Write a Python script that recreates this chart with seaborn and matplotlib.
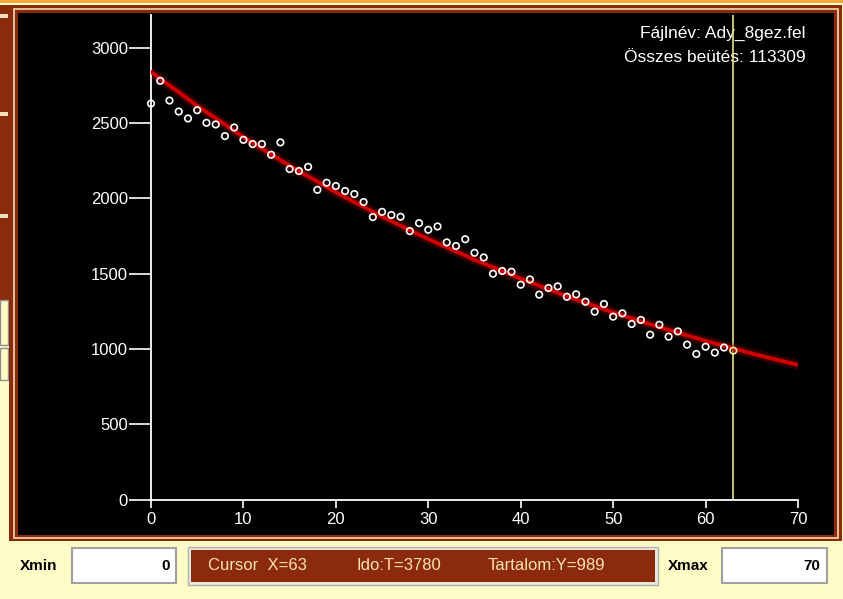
"""
Bomlási görbe (beütésszám az idő függvényében) - képernyőkép újrarajzolása
"""
import numpy as np
import pandas as pd
import matplotlib
matplotlib.use("Agg")
import matplotlib.pyplot as plt
import seaborn as sns
from matplotlib.patches import Rectangle

# Mért pontok (csatorna, beütés)
csatorna = list(range(64))
beutes = [2630, 2781, 2650, 2577, 2531, 2586, 2502, 2491, 2414, 2471,
          2389, 2361, 2361, 2290, 2372, 2195, 2182, 2210, 2057, 2104,
          2082, 2049, 2029, 1976, 1876, 1911, 1890, 1878, 1783, 1836,
          1792, 1814, 1708, 1684, 1729, 1639, 1608, 1500, 1518, 1513,
          1427, 1462, 1361, 1405, 1416, 1347, 1363, 1314, 1248, 1299,
          1215, 1237, 1166, 1193, 1095, 1161, 1082, 1117, 1029, 967,
          1015, 976, 1010, 989]

# Illesztett görbe (leolvasva)
illesztes_x = [0, 5, 10, 15, 20, 25, 30, 35, 40, 45, 50, 55, 60, 65, 70]
illesztes_y = [2840, 2615, 2407, 2217, 2041, 1879, 1730, 1593, 1467, 1350,
               1243, 1145, 1054, 970, 894]

y_ticks = [0, 500, 1000, 1500, 2000, 2500, 3000]
x_ticks = [0, 10, 20, 30, 40, 50, 60, 70]

fajlnev = "Fájlnév: Ady_8gez.fel"
osszes = "Összes beütés: 113309"
kurzor_x = 63
statusz = ["Cursor  X=63", "Ido:T=3780", "Tartalom:Y=989"]

sns.set_style("white")
plt.rcParams['font.family'] = ['Liberation Sans', 'DejaVu Sans']

W, H = 843, 599
fig = plt.figure(figsize=(W / 100, H / 100), dpi=100)
fig.patch.set_facecolor('#fdfcc6')


def doboz(x0, y0, x1, y1, **kw):
    # téglalap képpont-koordinátákban (felülről mérve)
    fig.add_artist(Rectangle((x0 / W, 1 - y1 / H), (x1 - x0) / W, (y1 - y0) / H,
                             transform=fig.transFigure, zorder=-1, **kw))


def szoveg(x, y, s, **kw):
    fig.text(x / W, 1 - y / H, s, **kw)


# keret és fekete panel
doboz(0, 0, 843, 3, fc='#f4a83a', ec='none')
doboz(0, 5, 9, 300, fc='#8a2c0c', ec='none')
for yy in (14, 112, 214):
    doboz(0, yy, 8, yy + 4, fc='#f0e0c0', ec='none')
doboz(0, 300, 8, 345, fc='#fdfcc6', ec='#909090', lw=1)
doboz(0, 348, 8, 380, fc='#fdfcc6', ec='#909090', lw=1)
doboz(9, 5, 842, 541, fc='#8a2c0c', ec='none')
doboz(14, 9, 838, 538, fc='none', ec='#f2d9b8', lw=1.2)
doboz(18, 13, 834, 535, fc='black', ec='none')

# alsó sáv
szoveg(20, 566, "Xmin", fontsize=11, fontweight='bold', color='black', va='center')
doboz(72, 548, 176, 583, fc='white', ec='#a0a0a0', lw=1.5)
szoveg(170, 566, "0", fontsize=11, fontweight='bold', color='black',
       va='center', ha='right')
doboz(188, 547, 658, 585, fc='#e8e8e0', ec='#b0b0b0', lw=1)
doboz(191, 550, 655, 582, fc='#8c2a0c', ec='none')
for x, s in zip([208, 357, 488], statusz):
    szoveg(x, 566, s, fontsize=12, color='#fbe3b0', va='center')
szoveg(668, 566, "Xmax", fontsize=11, fontweight='bold', color='black', va='center')
doboz(722, 548, 827, 583, fc='white', ec='#a0a0a0', lw=1.5)
szoveg(820, 566, "70", fontsize=11, fontweight='bold', color='black',
       va='center', ha='right')

# diagram
ax = fig.add_axes([151 / W, 1 - 499.6 / H, 647 / W, (499.6 - 15) / H])
ax.set_facecolor('none')
ax.set_zorder(5)

df_pont = pd.DataFrame({"x": csatorna, "y": beutes})
df_fit = pd.DataFrame({"x": illesztes_x, "y": illesztes_y})

ax.axvline(kurzor_x, color='#e6e68c', lw=1.2, zorder=1)
sns.lineplot(data=df_fit, x="x", y="y", ax=ax, color='#7a0000', lw=7, alpha=0.4, zorder=2)
sns.lineplot(data=df_fit, x="x", y="y", ax=ax, color='#d00000', lw=2.8, zorder=3)
sns.scatterplot(data=df_pont.iloc[:-1], x="x", y="y", ax=ax, s=22, marker='o',
                facecolor='none', edgecolor='white', linewidth=1.2, zorder=4,
                clip_on=False)
sns.scatterplot(data=df_pont.iloc[-1:], x="x", y="y", ax=ax, s=22, marker='o',
                facecolor='none', edgecolor='#f0f0a0', linewidth=1.2, zorder=4)

ax.set_xlim(0, 70)
ax.set_ylim(0, 3218)
ax.set_xticks(x_ticks)
ax.set_yticks(y_ticks)
ax.set_xlabel("")
ax.set_ylabel("")
for side in ('top', 'right'):
    ax.spines[side].set_visible(False)
for side in ('left', 'bottom'):
    ax.spines[side].set_color('white')
    ax.spines[side].set_linewidth(1.3)
ax.tick_params(axis='y', left=True, direction='out', length=15.5, width=1.2,
               color='white', labelcolor='white', labelsize=12, pad=1)
ax.tick_params(axis='x', bottom=True, direction='out', length=6, width=1.2,
               color='white', labelcolor='white', labelsize=12, pad=3)
ax.grid(False)

szoveg(806, 33, fajlnev, fontsize=12.5, color='white', ha='right', va='center')
szoveg(806, 57, osszes, fontsize=12.5, color='white', ha='right', va='center')

fig.savefig("out.png", dpi=100)
